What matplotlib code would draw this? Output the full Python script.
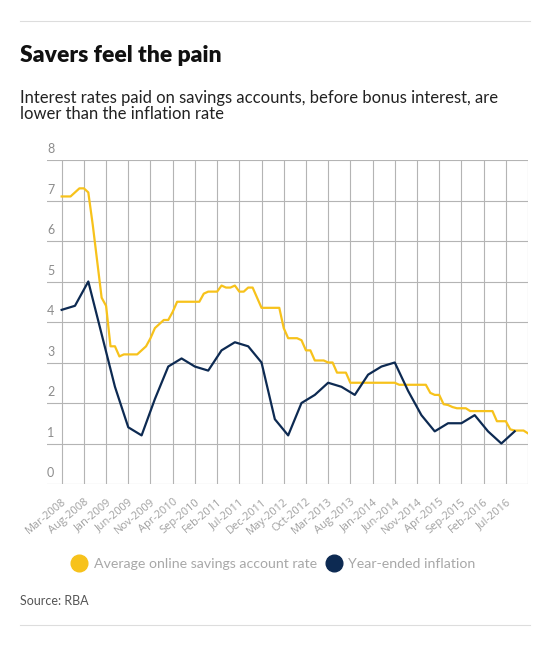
import matplotlib.pyplot as plt
from matplotlib.lines import Line2D

# monthly savings rate, Mar-2008 .. Dec-2016
savings_rate = [
    7.1, 7.1, 7.1, 7.2, 7.3, 7.3, 7.2, 6.4, 5.5, 4.6,
    4.4, 3.4, 3.4, 3.15, 3.2, 3.2, 3.2, 3.2, 3.3, 3.4,
    3.6, 3.85, 3.95, 4.05, 4.05, 4.25, 4.5, 4.5, 4.5, 4.5,
    4.5, 4.5, 4.7, 4.75, 4.75, 4.75, 4.9, 4.85, 4.85, 4.9,
    4.75, 4.75, 4.85, 4.85, 4.6, 4.35, 4.35, 4.35, 4.35, 4.35,
    3.85, 3.6, 3.6, 3.6, 3.55, 3.3, 3.3, 3.05, 3.05, 3.05,
    3.0, 3.0, 2.75, 2.75, 2.75, 2.5, 2.5, 2.5, 2.5, 2.5,
    2.5, 2.5, 2.5, 2.5, 2.5, 2.5, 2.45, 2.45, 2.45, 2.45,
    2.45, 2.45, 2.45, 2.25, 2.2, 2.2, 1.97, 1.95, 1.9, 1.87,
    1.87, 1.87, 1.8, 1.8, 1.8, 1.8, 1.8, 1.8, 1.55, 1.55,
    1.55, 1.35, 1.32, 1.32, 1.32, 1.25,
]

# quarterly year-ended inflation, Mar-2008 .. Sep-2016
inflation = [
    4.3, 4.4, 5.0, 3.7, 2.4, 1.4, 1.2, 2.1, 2.9, 3.1,
    2.9, 2.8, 3.3, 3.5, 3.4, 3.0, 1.6, 1.2, 2.0, 2.2,
    2.5, 2.4, 2.2, 2.7, 2.9, 3.0, 2.3, 1.7, 1.3, 1.5,
    1.5, 1.7, 1.3, 1.0, 1.3,
]

tick_labels = ["Mar-2008", "Aug-2008", "Jan-2009", "Jun-2009", "Nov-2009",
               "Apr-2010", "Sep-2010", "Feb-2011", "Jul-2011", "Dec-2011",
               "May-2012", "Oct-2012", "Mar-2013", "Aug-2013", "Jan-2014",
               "Jun-2014", "Nov-2014", "Apr-2015", "Sep-2015", "Feb-2016",
               "Jul-2016", ""]
y_ticks = [0, 1, 2, 3, 4, 5, 6, 7, 8]

yellow = "#F7C21B"
navy = "#0D2A52"
grid_c = "#B4B4B4"

plt.rcParams['font.family'] = ['Lato', 'DejaVu Sans']

W, H = 550, 647
fig = plt.figure(figsize=(W / 100, H / 100), dpi=100)
fig.patch.set_facecolor("white")

ax = fig.add_axes([47 / W, 1 - 484 / H, (528 - 47) / W, (484 - 160) / H])

months = list(range(len(savings_rate)))
quarters = list(range(0, 3 * len(inflation), 3))

ax.plot(months, savings_rate, color=yellow, lw=1.6, solid_joinstyle="round", zorder=3)
ax.plot(quarters, inflation, color=navy, lw=1.6, solid_joinstyle="round", zorder=3)

ax.set_xlim(-3.3, 105)
ax.set_ylim(0, 8)
ax.set_xticks(list(range(0, 5 * len(tick_labels), 5)))
ax.set_xticklabels(tick_labels, rotation=40, ha="right", rotation_mode="anchor",
                   color="#A0A0A0", fontsize=7.9, family=["Open Sans", "DejaVu Sans"])
ax.tick_params(axis="x", length=0, pad=9)
ax.set_yticks(y_ticks)
ax.set_yticklabels([])
ax.tick_params(axis="y", length=0)
ax.grid(True, color=grid_c, lw=0.8)
ax.set_axisbelow(True)
for s in ax.spines.values():
    s.set_visible(False)
for v in y_ticks:
    ax.text(-3.3, v + 0.12, str(v), ha="left", va="bottom",
            color="#8C8C8C", fontsize=9)

# titles
fig.text(20 / W, 1 - 55 / H, "Savers feel the pain", fontsize=16.5,
         fontweight="heavy", color="#111111", va="center", ha="left")
fig.text(20 / W, 1 - 106 / H,
         "Interest rates paid on savings accounts, before bonus interest, are\nlower than the inflation rate",
         fontsize=12, color="#222222", va="center", ha="left", linespacing=1.05)

# legend
handles = [Line2D([], [], marker="o", ls="", color=yellow, markersize=12),
           Line2D([], [], marker="o", ls="", color=navy, markersize=12)]
leg = fig.legend(handles, ["Average online savings account rate", "Year-ended inflation"],
                 loc="center", bbox_to_anchor=(273 / W, 1 - 564 / H), ncol=2,
                 frameon=False, handletextpad=0.4, columnspacing=0.6,
                 fontsize=10.2, handlelength=1.2)
for t in leg.get_texts():
    t.set_color("#A8A8A8")

fig.text(20 / W, 1 - 601 / H, "Source: RBA", fontsize=9, color="#555555",
         va="center", ha="left")

# rules
fig.add_artist(Line2D([20 / W, 530 / W], [1 - 21 / H, 1 - 21 / H], color="#DDDDDD", lw=0.8))
fig.add_artist(Line2D([20 / W, 530 / W], [1 - 625 / H, 1 - 625 / H], color="#DDDDDD", lw=0.8))

fig.savefig("out.png", dpi=100)
